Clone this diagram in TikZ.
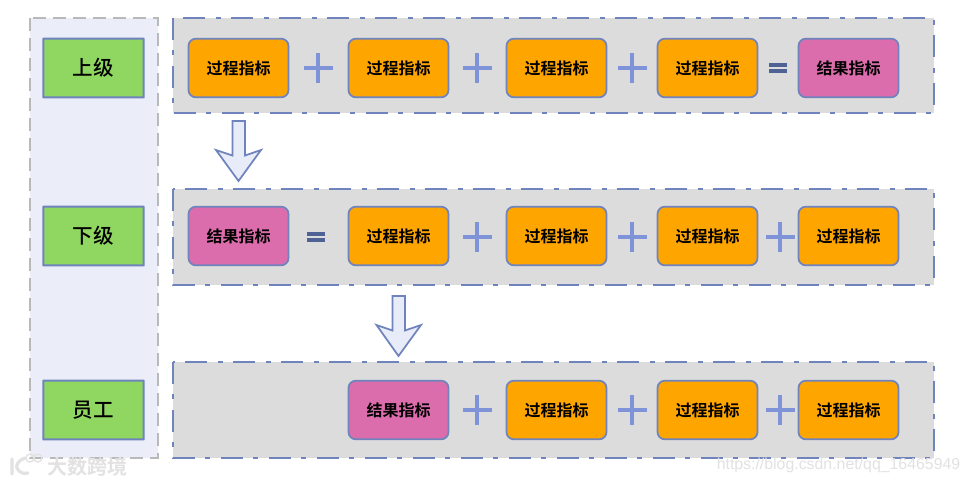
\documentclass[tikz,border=0pt]{standalone}
\usepackage{fontspec}
\setmainfont{Liberation Sans}
\newfontfamily\cjk{Noto Sans CJK SC Medium}
\newfontfamily\cjkb{Noto Sans CJK SC Bold}
\definecolor{edgeblue}{HTML}{6F83BD}
\definecolor{plusblue}{HTML}{7F93D8}
\definecolor{eqblue}{HTML}{4F6296}
\definecolor{panelgrey}{HTML}{DCDCDC}
\definecolor{leftfill}{HTML}{EBEEF8}
\definecolor{leftedge}{HTML}{B9B9B9}
\definecolor{okgreen}{HTML}{90D761}
\definecolor{procorange}{HTML}{FFA500}
\definecolor{respink}{HTML}{DC6DAC}
\definecolor{arrowfill}{HTML}{E8ECF8}
\definecolor{wm}{HTML}{E2E2E2}
\tikzset{
  x=0.75pt,y=-0.75pt,
  leftpanel/.style={fill=leftfill,draw=leftedge,line width=1.5pt,dash pattern=on 10pt off 5pt},
  rowpanel/.style={fill=panelgrey,draw=edgeblue,line width=1.4pt,dash pattern=on 16.5pt off 7.5pt on 4pt off 8pt},
  levelbox/.style={draw=edgeblue,line width=1.5pt,fill=okgreen,minimum width=75.2pt,minimum height=44.2pt,inner sep=0pt,rounded corners=0.2pt,font=\cjk\fontsize{15.4}{15.4}\selectfont},
  procbox/.style={draw=edgeblue,line width=1.3pt,fill=procorange,rounded corners=5.5pt,minimum width=75pt,minimum height=44pt,inner sep=0pt,font=\cjkb\fontsize{12}{12}\selectfont},
  resbox/.style={procbox,fill=respink},
  plusline/.style={draw=plusblue,line width=3.4pt},
  eqline/.style={draw=eqblue,line width=2.6pt},
  blockarrow/.style={draw=edgeblue,line width=1.3pt,fill=arrowfill,line join=miter},
  plussign/.pic={\draw[plusline] (-14.5,0)--(14.5,0) (0,-15)--(0,15);},
  eqsign/.pic={\draw[eqline] (-9,-3)--(9,-3) (-9,3)--(9,3);}
}
\begin{document}
\begin{tikzpicture}
\useasboundingbox (0,0) rectangle (969,483);
\fill[white] (0,0) rectangle (969,483);
% panels
\draw[leftpanel] (30,18) rectangle (158,458);
\draw[rowpanel] (173,18) rectangle (934,113);
\draw[rowpanel] (173,189) rectangle (934,285);
\draw[rowpanel] (173,362) rectangle (934,458);
% level boxes
\node[levelbox] (l1) at (93.5,68) {上级};
\node[levelbox] (l2) at (93.5,236) {下级};
\node[levelbox] (l3) at (93.5,410) {员工};
% row 1
\node[procbox] (a1) at (238.5,68) {过程指标};
\node[procbox] (a2) at (398.5,68) {过程指标};
\node[procbox] (a3) at (556.5,68) {过程指标};
\node[procbox] (a4) at (707.5,68) {过程指标};
\node[resbox]  (a5) at (848.5,68) {结果指标};
\pic at (318,68) {plussign};
\pic at (477,68) {plussign};
\pic at (632,68) {plussign};
\pic at (778,68) {eqsign};
% row 2
\node[resbox]  (b1) at (238.5,236) {结果指标};
\node[procbox] (b2) at (398.5,236) {过程指标};
\node[procbox] (b3) at (556.5,236) {过程指标};
\node[procbox] (b4) at (707.5,236) {过程指标};
\node[procbox] (b5) at (848.5,236) {过程指标};
\pic at (316,237) {eqsign};
\pic at (477,237) {plussign};
\pic at (632,237) {plussign};
\pic at (780,237) {plussign};
% row 3
\node[resbox]  (c2) at (398.5,410) {结果指标};
\node[procbox] (c3) at (556.5,410) {过程指标};
\node[procbox] (c4) at (707.5,410) {过程指标};
\node[procbox] (c5) at (848.5,410) {过程指标};
\pic at (477,410) {plussign};
\pic at (632,410) {plussign};
\pic at (780,410) {plussign};
% block arrows
\draw[blockarrow] (232.5,121)--(245,121)--(245,155.5)--(261,150)--(238.5,181)--(216,150)--(232.5,155.5)--cycle;
\draw[blockarrow] (392.5,296)--(405,296)--(405,330.5)--(421,325)--(398.5,356)--(376.5,325)--(392.5,330.5)--cycle;
% watermarks
\node[text=wm,font=\cjkb\fontsize{15}{15}\selectfont,inner sep=0pt] (wm1) at (87.5,466.5) {大数跨境};
\draw[wm,line width=2.4pt,line cap=round] (12,459)--(12,474) (25,458) .. controls (17,461) and (16,466) .. (17,468) .. controls (19,473) and (24,474) .. (28,473);
\draw[wm,line width=1pt] (30,458) circle (4) (38,458) circle (4);
\node[text=wm,font=\fontsize{11.9}{11.9}\selectfont,inner sep=0pt] (wm2) at (838.5,465) {https://blog.csdn.net/qq\_16465949};
\end{tikzpicture}
\end{document}
